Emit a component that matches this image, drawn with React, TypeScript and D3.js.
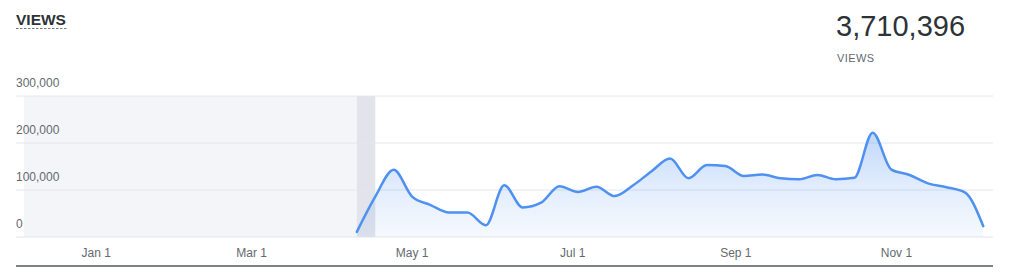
import React from "react";
import * as d3 from "d3";

// ---- data ----
const weekStarts: string[] = [
  "2019-04-10", "2019-04-17", "2019-04-24", "2019-05-01", "2019-05-08", "2019-05-15", "2019-05-22",
  "2019-05-29", "2019-06-05", "2019-06-12", "2019-06-19", "2019-06-26", "2019-07-03", "2019-07-10",
  "2019-07-17", "2019-07-24", "2019-07-31", "2019-08-07", "2019-08-14", "2019-08-21", "2019-08-28",
  "2019-09-04", "2019-09-11", "2019-09-18", "2019-09-25", "2019-10-02", "2019-10-09", "2019-10-16",
  "2019-10-23", "2019-10-30", "2019-11-06", "2019-11-13", "2019-11-20", "2019-11-27", "2019-12-04",
];
const weeklyViews: number[] = [
  11000, 86000, 143000, 86000, 68000, 52000, 52000,
  25000, 110000, 63000, 73000, 108000, 96000, 107000,
  87000, 110000, 140000, 167000, 125000, 153000, 151000,
  130000, 133000, 125000, 123000, 132000, 123000, 126000,
  222000, 144000, 132000, 114000, 106000, 95000, 23000,
];
const yTicks: number[] = [0, 100000, 200000, 300000];
const xTickDates: string[] = ["2019-01-01", "2019-03-01", "2019-05-01", "2019-07-01", "2019-09-01", "2019-11-01"];
const totalViews = 3710396;
const title = "VIEWS";
const totalLabel = "VIEWS";

const W = 1024;
const H = 279;
const FONT = "'Liberation Sans', Arial, Helvetica, sans-serif";

export default function App() {
  const parse = d3.timeParse("%Y-%m-%d");
  const dates = weekStarts.map((s) => parse(s) as Date);
  const data = dates.map((d, i) => ({ date: d, value: weeklyViews[i] }));

  const x = d3
    .scaleTime()
    .domain([new Date(2018, 11, 4, 12, 43), new Date(2019, 11, 7, 16, 48)])
    .range([24, 993]);
  const y = d3.scaleLinear().domain([0, 300000]).range([237, 96]);

  const line = d3
    .line<{ date: Date; value: number }>()
    .x((d) => x(d.date))
    .y((d) => y(d.value))
    .curve(d3.curveMonotoneX);
  const area = d3
    .area<{ date: Date; value: number }>()
    .x((d) => x(d.date))
    .y0(y(0))
    .y1((d) => y(d.value))
    .curve(d3.curveMonotoneX);

  const fmtNum = d3.format(",");
  const fmtDate = d3.timeFormat("%b %-d");
  const firstX = x(dates[0]);
  const firstWeekEnd = x(d3.timeDay.offset(dates[0], 7));
  const [x0, x1] = x.range();
  const maxY = y(d3.max(weeklyViews) as number);

  return (
    <div style={{ position: "absolute", left: 0, top: 0 }}>
      <svg width={W} height={H} style={{ display: "block", fontFamily: FONT }}>
        <defs>
          <linearGradient id="fillGrad" gradientUnits="userSpaceOnUse" x1="0" x2="0" y1={maxY} y2={y(0)}>
            <stop offset="0" stopColor="#4f91f0" stopOpacity={0.36} />
            <stop offset="0.5" stopColor="#4f91f0" stopOpacity={0.17} />
            <stop offset="1" stopColor="#4f91f0" stopOpacity={0.05} />
          </linearGradient>
        </defs>

        {/* header */}
        <text x={16} y={25} fontSize={15.5} fontWeight={700} fill="#2c3338">
          {title}
        </text>
        <line x1={16} x2={67} y1={28.5} y2={28.5} stroke="#787c82" strokeWidth={1} strokeDasharray="2.5,1.5" />
        <text x={836} y={36} fontSize={29} fill="#2c3338">
          {fmtNum(totalViews)}
        </text>
        <text x={837} y={62} fontSize={11} fill="#646970" letterSpacing={0.4}>
          {totalLabel}
        </text>

        {/* no-data region and first week highlight */}
        <rect x={x0} y={y(300000)} width={firstX - x0} height={y(0) - y(300000)} fill="#f3f5f9" />
        <rect x={firstX} y={y(300000)} width={firstWeekEnd - firstX} height={y(0) - y(300000)} fill="#e1e4eb" />

        {/* grid + y labels */}
        {yTicks.map((t) => (
          <g key={t}>
            <line x1={16} x2={x1} y1={y(t)} y2={y(t)} stroke="#e4e6ec" strokeWidth={1} />
            <text x={16} y={y(t) - 9} fontSize={12} fill="#646970">
              {fmtNum(t)}
            </text>
          </g>
        ))}

        {/* area + line */}
        <path d={area(data) || ""} fill="url(#fillGrad)" />
        <path d={line(data) || ""} fill="none" stroke="#4f91f0" strokeWidth={2.5} strokeLinejoin="round" strokeLinecap="round" />

        {/* x axis labels */}
        {xTickDates.map((s) => {
          const d = parse(s) as Date;
          return (
            <text key={s} x={x(d)} y={257} fontSize={12} fill="#646970" textAnchor="middle">
              {fmtDate(d)}
            </text>
          );
        })}
        <line x1={16} x2={x1} y1={266} y2={266} stroke="#50575e" strokeWidth={1.5} />
      </svg>
    </div>
  );
}
